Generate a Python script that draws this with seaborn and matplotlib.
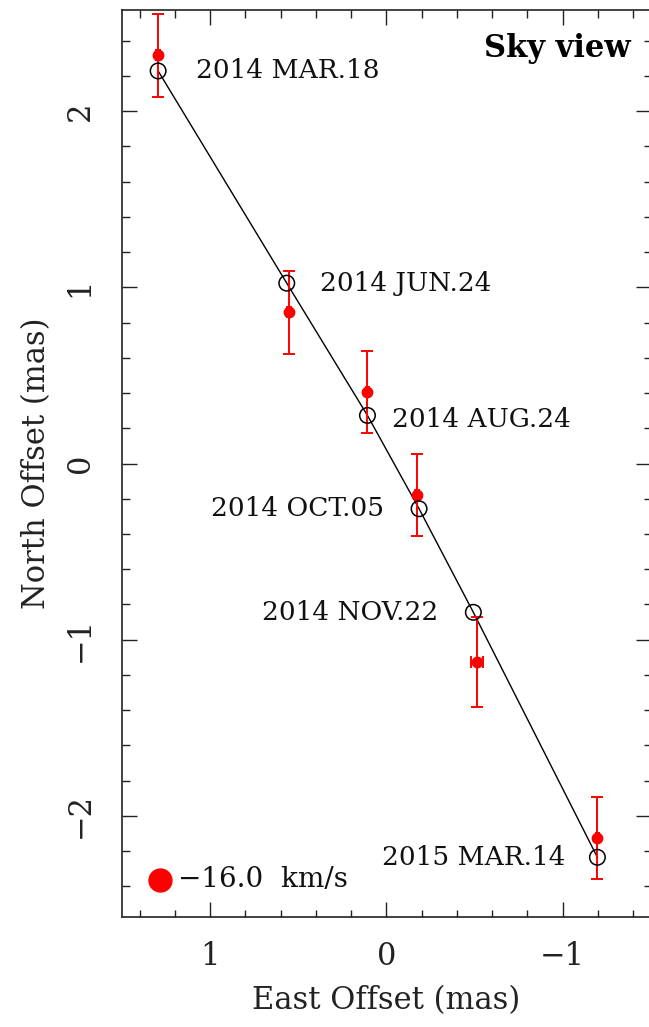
import numpy as np
import pandas as pd
import matplotlib
matplotlib.use("Agg")
import matplotlib.pyplot as plt
from matplotlib.ticker import MultipleLocator
import seaborn as sns

# Epochs of the maser spot
epochs = ["2014 MAR.18", "2014 JUN.24", "2014 AUG.24",
          "2014 OCT.05", "2014 NOV.22", "2015 MAR.14"]

# Best-fit model positions (parallax + proper motion), mas
model_east = [1.295, 0.565, 0.107, -0.186, -0.494, -1.198]
model_north = [2.229, 1.024, 0.273, -0.257, -0.845, -2.236]

# Measured positions and uncertainties, mas
obs_east = [1.295, 0.552, 0.107, -0.173, -0.514, -1.198]
obs_north = [2.319, 0.858, 0.407, -0.177, -1.127, -2.128]
obs_east_err = [0.010, 0.010, 0.010, 0.010, 0.035, 0.010]
obs_north_err = [0.236, 0.237, 0.234, 0.233, 0.255, 0.234]

vlsr_label = "\u221216.0  km/s"

# Label placement relative to each model point: (dx px, dy px, alignment)
label_offsets = [(38, 0, "left"), (33, 0, "left"), (25, -4, "left"),
                 (-35, 0, "right"), (-35, 0, "right"), (-32, 0, "right")]

sns.set_style("ticks")
plt.rcParams["font.family"] = ["DejaVu Serif", "DejaVu Sans"]
plt.rcParams["mathtext.fontset"] = "dejavuserif"

W, H = 649, 1027
fig = plt.figure(figsize=(W / 100, H / 100), dpi=100)
left, right, top, bottom = 122, 650.6, 10, 917
ax = fig.add_axes([left / W, 1 - bottom / H, (right - left) / W, (bottom - top) / H])

model = pd.DataFrame({"east": model_east, "north": model_north, "epoch": epochs})

sns.lineplot(data=model, x="east", y="north", sort=False, estimator=None,
             color="black", linewidth=1.0, ax=ax, zorder=2)
ax.errorbar(obs_east, obs_north, xerr=obs_east_err, yerr=obs_north_err,
            fmt="o", color="red", ecolor="red", markersize=7.5,
            elinewidth=1.4, capsize=4.5, capthick=1.4, zorder=3)
sns.scatterplot(data=model, x="east", y="north", marker="o", s=125,
                facecolor="none", edgecolor="black", linewidth=1.1,
                ax=ax, zorder=4)

px = 72 / 100
for (e, n, lab), (dx, dy, ha) in zip(zip(model_east, model_north, epochs), label_offsets):
    ax.annotate(lab, (e, n), xytext=(dx * px, dy * px), textcoords="offset points",
                ha=ha, va="center", fontsize=19, color="#111111")

ax.text(0.963, 0.975, "Sky view", transform=ax.transAxes, ha="right", va="top",
        fontsize=22, fontweight="bold", color="black")

ax.plot([0.072], [0.041], "o", color="red", markersize=16.5,
        transform=ax.transAxes, clip_on=False)
ax.text(0.106, 0.041, vlsr_label, transform=ax.transAxes, ha="left",
        va="center", fontsize=20, color="#111111")

ax.set_xlim(1.5, -1.5)
ax.set_ylim(-2.575, 2.575)
ax.xaxis.set_major_locator(MultipleLocator(1))
ax.xaxis.set_minor_locator(MultipleLocator(0.2))
ax.yaxis.set_major_locator(MultipleLocator(1))
ax.yaxis.set_minor_locator(MultipleLocator(0.2))
ax.set_xticks([1, 0, -1])
ax.set_xticklabels(["1", "0", "\u22121"])
ax.set_yticks([2, 1, 0, -1, -2])
ax.set_yticklabels(["2", "1", "0", "\u22121", "\u22122"], rotation=90, va="center")

ax.tick_params(which="both", direction="in", top=True, right=True,
               color="#222222", width=1.0, labelsize=22, labelcolor="#222222")
ax.tick_params(which="major", length=10.8)
ax.tick_params(axis="x", which="major", pad=17)
ax.tick_params(axis="y", which="major", pad=19)
ax.tick_params(which="minor", length=5.4)
for s in ax.spines.values():
    s.set_linewidth(1.2)
    s.set_color("#222222")

ax.set_xlabel("East Offset (mas)", fontsize=22, color="#222222", labelpad=10)
ax.set_ylabel("North Offset (mas)", fontsize=22, color="#222222", labelpad=9)

fig.savefig("out.png", dpi=100)
